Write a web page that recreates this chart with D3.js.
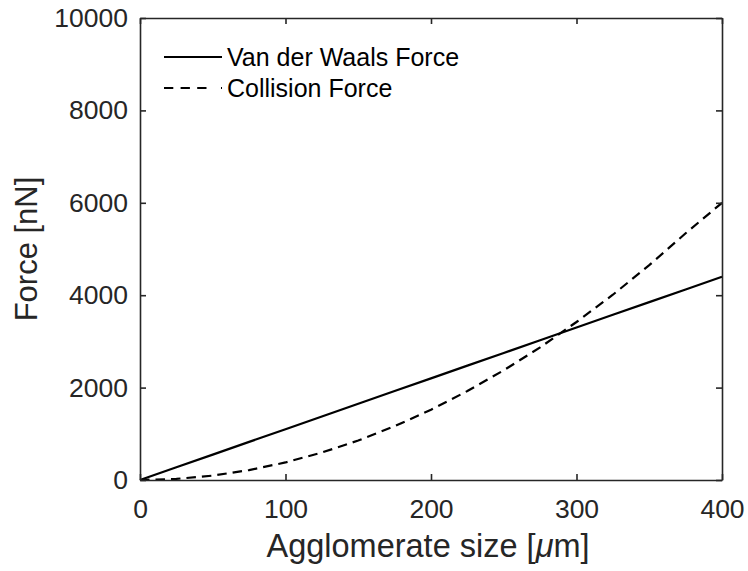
<!DOCTYPE html>
<html>
<head>
<meta charset="utf-8">
<script src="https://cdn.jsdelivr.net/npm/d3@7"></script>
<style>
  html, body { margin: 0; padding: 0; background: #fff; }
  svg { display: block; font-family: "Liberation Sans", Arial, sans-serif; }
</style>
</head>
<body>
<svg id="chart" width="748" height="571"></svg>
<script>
// Agglomerate size (µm) sample points
const sizes = [0, 25, 50, 75, 100, 125, 150, 175, 200, 225, 250, 275, 300, 325, 350, 375, 400];
// Van der Waals force (nN)
const vdwForce = [0, 275, 550, 825, 1100, 1375, 1650, 1925, 2200, 2475, 2750, 3025, 3300, 3575, 3850, 4125, 4400];
// Collision force (nN)
const collisionForce = [0, 24, 95, 215, 380, 595, 855, 1165, 1520, 1925, 2375, 2870, 3420, 4010, 4650, 5340, 6000];

const xTicks = [0, 100, 200, 300, 400];
const yTicks = [0, 2000, 4000, 6000, 8000, 10000];

const seriesNames = ["Van der Waals Force", "Collision Force"];
const seriesDash = [null, "9.5,6"];
const legendDash = [null, "9.3,7.3,9.3,7.3,9.3,14.5,1.6"];

const svg = d3.select("#chart");
const m = { left: 140, right: 722, top: 18, bottom: 480 };
const axisColor = "#262626";

const x = d3.scaleLinear().domain([0, 400]).range([m.left, m.right]);
const y = d3.scaleLinear().domain([0, 10000]).range([m.bottom, m.top]);

// Curves
const line = d3.line().x(d => x(d[0])).y(d => y(d[1]));
[vdwForce, collisionForce].forEach((vals, i) => {
  svg.append("path")
    .datum(sizes.map((s, j) => [s, vals[j]]))
    .attr("d", line)
    .attr("fill", "none")
    .attr("stroke", "#000")
    .attr("stroke-width", 2.2)
    .attr("stroke-dasharray", seriesDash[i]);
});

// Axes with inward ticks, boxed
function styleAxis(g) {
  g.select(".domain").attr("stroke", axisColor).attr("stroke-width", 1.6);
  g.selectAll(".tick line").attr("stroke", axisColor).attr("stroke-width", 1.6);
  g.selectAll(".tick text").attr("fill", axisColor).attr("font-size", 26.5)
    .attr("font-family", "Liberation Sans, Arial, sans-serif");
}
const fmt = d3.format("d");
svg.append("g").attr("transform", `translate(0,${m.bottom})`)
  .call(d3.axisBottom(x).tickValues(xTicks).tickFormat(fmt).tickSizeInner(-6).tickSizeOuter(0).tickPadding(19))
  .call(styleAxis);
svg.append("g").attr("transform", `translate(0,${m.top})`)
  .call(d3.axisTop(x).tickValues(xTicks).tickFormat("").tickSizeInner(-6).tickSizeOuter(0))
  .call(styleAxis);
svg.append("g").attr("transform", `translate(${m.left},0)`)
  .call(d3.axisLeft(y).tickValues(yTicks).tickFormat(fmt).tickSizeInner(-6).tickSizeOuter(0).tickPadding(12))
  .call(styleAxis);
svg.append("g").attr("transform", `translate(${m.right},0)`)
  .call(d3.axisRight(y).tickValues(yTicks).tickFormat("").tickSizeInner(-6).tickSizeOuter(0))
  .call(styleAxis);

// Axis titles
const xl = svg.append("text")
  .attr("x", (m.left + m.right) / 2 - 3).attr("y", 557)
  .attr("text-anchor", "middle").attr("font-size", 32.5).attr("fill", axisColor);
xl.append("tspan").text("Agglomerate size [");
xl.append("tspan").attr("font-style", "italic").text("μ");
xl.append("tspan").text("m]");

svg.append("text")
  .attr("transform", `translate(37,${(m.top + m.bottom) / 2}) rotate(-90)`)
  .attr("text-anchor", "middle").attr("font-size", 31).attr("fill", axisColor)
  .text("Force [nN]");

// Legend
const legend = svg.append("g");
seriesNames.forEach((name, i) => {
  const ly = 57 + i * 31;
  legend.append("line")
    .attr("x1", 164).attr("x2", 222).attr("y1", ly).attr("y2", ly)
    .attr("stroke", "#000").attr("stroke-width", 2.2)
    .attr("stroke-dasharray", legendDash[i]);
  legend.append("text")
    .attr("x", 227).attr("y", ly + 9)
    .attr("font-size", 25).attr("fill", "#000")
    .text(name);
});
</script>
</body>
</html>
